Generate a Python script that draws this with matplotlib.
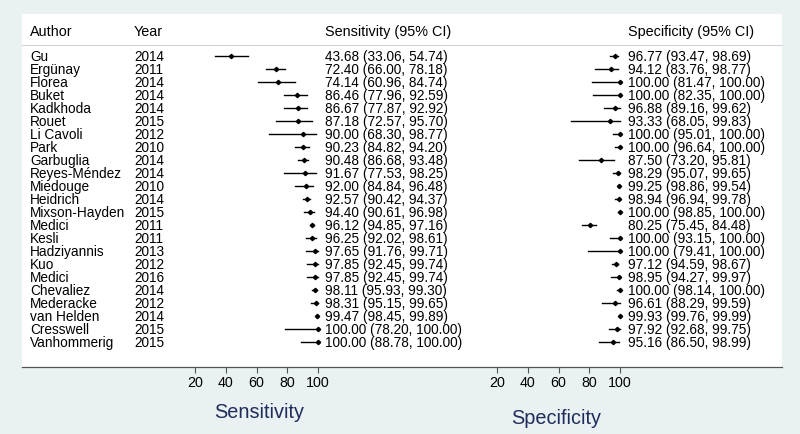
import matplotlib
matplotlib.use("Agg")
import matplotlib.pyplot as plt
import matplotlib.transforms as mtransforms
from matplotlib.lines import Line2D
from matplotlib.patches import Rectangle

plt.rcParams['font.family'] = ['Liberation Sans', 'DejaVu Sans']

authors = ["Gu", "Ergünay", "Florea", "Buket", "Kadkhoda", "Rouet", "Li Cavoli",
           "Park", "Garbuglia", "Reyes-Méndez", "Miedouge", "Heidrich",
           "Mixson-Hayden", "Medici", "Kesli", "Hadziyannis", "Kuo", "Medici",
           "Chevaliez", "Mederacke", "van Helden", "Cresswell", "Vanhommerig"]
years = [2014, 2011, 2014, 2014, 2014, 2015, 2012, 2010, 2014, 2014, 2010, 2014,
         2015, 2011, 2011, 2013, 2012, 2016, 2014, 2012, 2014, 2015, 2015]

sens = [43.68, 72.40, 74.14, 86.46, 86.67, 87.18, 90.00, 90.23, 90.48, 91.67,
        92.00, 92.57, 94.40, 96.12, 96.25, 97.65, 97.85, 97.85, 98.11, 98.31,
        99.47, 100.00, 100.00]
sens_lo = [33.06, 66.00, 60.96, 77.96, 77.87, 72.57, 68.30, 84.82, 86.68, 77.53,
           84.84, 90.42, 90.61, 94.85, 92.02, 91.76, 92.45, 92.45, 95.93, 95.15,
           98.45, 78.20, 88.78]
sens_hi = [54.74, 78.18, 84.74, 92.59, 92.92, 95.70, 98.77, 94.20, 93.48, 98.25,
           96.48, 94.37, 96.98, 97.16, 98.61, 99.71, 99.74, 99.74, 99.30, 99.65,
           99.89, 100.00, 100.00]

spec = [96.77, 94.12, 100.00, 100.00, 96.88, 93.33, 100.00, 100.00, 87.50, 98.29,
        99.25, 98.94, 100.00, 80.25, 100.00, 100.00, 97.12, 98.95, 100.00, 96.61,
        99.93, 97.92, 95.16]
spec_lo = [93.47, 83.76, 81.47, 82.35, 89.16, 68.05, 95.01, 96.64, 73.20, 95.07,
           98.86, 96.94, 98.85, 75.45, 93.15, 79.41, 94.59, 94.27, 98.14, 88.29,
           99.76, 92.68, 86.50]
spec_hi = [98.69, 98.77, 100.00, 100.00, 99.62, 99.83, 100.00, 100.00, 95.81, 99.65,
           99.54, 99.78, 100.00, 84.48, 100.00, 100.00, 98.67, 99.97, 100.00, 99.59,
           99.99, 99.75, 98.99]

ticks = [20, 40, 60, 80, 100]

W, H = 800, 435
fig = plt.figure(figsize=(8, 4.35), dpi=100, facecolor='#e9f1f2')

def fx(px):
    return px / W

def fy(py):
    return 1 - py / H

# white panel behind everything
fig.patches.append(Rectangle((fx(22), fy(368)), fx(782) - fx(22), fy(15) - fy(368),
                             transform=fig.transFigure, facecolor='white',
                             edgecolor='none', zorder=-5))
# header rule and bottom rule
fig.lines.append(Line2D([fx(22), fx(782)], [fy(46), fy(46)], transform=fig.transFigure,
                        color='#d0d4d6', lw=0.8, zorder=-4))
fig.lines.append(Line2D([fx(22), fx(782)], [fy(368), fy(368)], transform=fig.transFigure,
                        color='#555555', lw=0.9, zorder=-4))

row0, step = 57, 13.0
top_px, bot_px = 46, 368
ylim = ((bot_px - row0) / step, (top_px - row0) / step)

def forest_ax(x0px, est, lo, hi):
    # 0..100 mapped so that 20 and 100 land on the drawn ticks
    scale = 1.54
    left = x0px - 20 * scale
    ax = fig.add_axes([fx(left), fy(bot_px), 100 * scale / W, (bot_px - top_px) / H])
    ax.set_xlim(0, 100)
    ax.set_ylim(*ylim)
    ax.patch.set_visible(False)
    for s in ax.spines.values():
        s.set_visible(False)
    ax.set_yticks([])
    ax.set_xticks(ticks)
    ax.tick_params(axis='x', length=4, width=0.8, color='#555555', labelsize=10.3,
                   pad=2)
    for i in range(len(est)):
        ax.plot([lo[i], hi[i]], [i, i], color='black', lw=1.0, clip_on=False)
    ax.plot(est, range(len(est)), 'D', color='black', ms=2.2, ls='none',
            clip_on=False)
    return ax

ax_se = forest_ax(195, sens, sens_lo, sens_hi)
ax_sp = forest_ax(497, spec, spec_lo, spec_hi)

tr = mtransforms.blended_transform_factory(fig.transFigure, ax_se.transData)
fs = 9.8
hfs = 10.4
fig.text(fx(30), fy(32), "Author", fontsize=hfs, va='center')
fig.text(fx(134), fy(32), "Year", fontsize=hfs, va='center')
fig.text(fx(325), fy(32), "Sensitivity (95% CI)", fontsize=hfs, va='center')
fig.text(fx(628), fy(32), "Specificity (95% CI)", fontsize=hfs, va='center')

for i in range(len(authors)):
    ax_se.text(fx(30), i, authors[i], transform=tr, fontsize=fs, va='center')
    ax_se.text(fx(134), i, str(years[i]), transform=tr, fontsize=fs, va='center')
    ax_se.text(fx(325), i, f"{sens[i]:.2f} ({sens_lo[i]:.2f}, {sens_hi[i]:.2f})",
               transform=tr, fontsize=fs, va='center')
    ax_se.text(fx(628), i, f"{spec[i]:.2f} ({spec_lo[i]:.2f}, {spec_hi[i]:.2f})",
               transform=tr, fontsize=fs, va='center')

fig.text(fx(259), fy(413), "Sensitivity", fontsize=14.3, color='#1f2d5c',
         ha='center', va='center')
fig.text(fx(556), fy(419), "Specificity", fontsize=14.3, color='#1f2d5c',
         ha='center', va='center')

fig.savefig("out.png", dpi=100, facecolor=fig.get_facecolor())
